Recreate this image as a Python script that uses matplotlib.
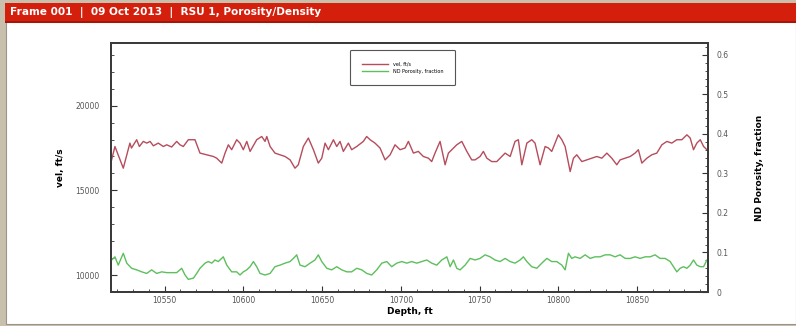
import numpy as np
import matplotlib
matplotlib.use('Agg')
import matplotlib.pyplot as plt
from matplotlib.patches import Rectangle
from matplotlib.ticker import MultipleLocator

# sonic velocity log (ft/s) vs depth (ft)
vel_depth = [10516.4, 10518.5, 10523.8, 10528.0, 10529.0, 10532.3, 10534.0, 10536.5, 10538.7,
             10540.8, 10542.9, 10546.0, 10549.2, 10551.4, 10554.5, 10557.7, 10559.8, 10561.9,
             10565.1, 10569.3, 10572.5, 10576.8, 10581.0, 10583.1, 10586.3, 10588.4, 10590.5,
             10592.6, 10595.8, 10597.9, 10600.0, 10602.2, 10604.3, 10608.5, 10611.7, 10613.8,
             10614.9, 10617.0, 10620.1, 10623.3, 10626.5, 10629.7, 10632.8, 10634.9, 10638.1,
             10641.3, 10644.5, 10647.6, 10649.8, 10651.9, 10654.0, 10657.2, 10659.3, 10661.4,
             10663.5, 10666.7, 10668.8, 10672.0, 10676.2, 10678.3, 10680.5, 10683.6, 10686.8,
             10690.0, 10693.2, 10696.3, 10699.5, 10702.7, 10704.8, 10708.0, 10711.1, 10714.3,
             10717.5, 10719.6, 10721.7, 10724.9, 10728.1, 10730.2, 10733.4, 10735.5, 10738.7,
             10741.9, 10745.0, 10747.1, 10750.3, 10752.4, 10754.6, 10757.7, 10760.9, 10763.0,
             10766.2, 10769.4, 10772.5, 10774.6, 10776.8, 10780.0, 10783.1, 10785.2, 10788.4,
             10791.6, 10793.7, 10795.8, 10800.0, 10802.2, 10804.3, 10807.5, 10809.6, 10811.7,
             10814.9, 10818.1, 10821.2, 10824.4, 10827.6, 10830.8, 10833.9, 10837.1, 10839.2,
             10842.4, 10845.6, 10848.7, 10850.8, 10853.0, 10856.2, 10859.3, 10862.5, 10865.7,
             10868.9, 10872.0, 10875.2, 10878.4, 10881.6, 10883.7, 10885.8, 10887.9, 10890.1,
             10892.2, 10894.3]
vel = [16800, 17590, 16310, 17790, 17500, 17990, 17590, 17890, 17790,
       17890, 17630, 17790, 17590, 17690, 17560, 17890, 17690, 17590,
       17990, 17990, 17200, 17100, 17000, 16900, 16610, 17200, 17690,
       17400, 17990, 17790, 17400, 17890, 17300, 17990, 18180, 17890,
       18180, 17590, 17200, 17100, 17000, 16800, 16310, 16510, 17590,
       18090, 17400, 16610, 16900, 17790, 17400, 17990, 17590, 17890,
       17300, 17790, 17400, 17590, 17890, 18180, 17990, 17790, 17500,
       16800, 17100, 17690, 17400, 17500, 17890, 17200, 17300, 17000,
       16900, 16700, 17200, 17890, 16510, 17200, 17500, 17690, 17890,
       17300, 16800, 16800, 17000, 17300, 16900, 16700, 16700, 16900,
       17200, 17000, 17890, 17990, 16510, 17790, 17990, 17790, 16510,
       17590, 17500, 17300, 18280, 17990, 17590, 16110, 16900, 17100,
       16700, 16800, 16900, 17000, 16900, 17200, 16900, 16510, 16800,
       16900, 17000, 17200, 17400, 16610, 16900, 17100, 17200, 17690,
       17890, 17790, 17990, 17990, 18280, 18090, 17400, 17790, 17990,
       17590, 17400]

# neutron-density porosity (fraction) vs depth (ft)
por_depth = [10516.4, 10518.5, 10520.6, 10523.8, 10526.0, 10529.1, 10532.3, 10535.5, 10538.7,
             10541.8, 10545.0, 10548.2, 10551.4, 10554.5, 10557.7, 10560.9, 10563.0, 10565.1,
             10568.3, 10570.4, 10572.5, 10575.7, 10577.8, 10580.0, 10582.0, 10584.1, 10587.3,
             10589.5, 10592.6, 10595.8, 10597.9, 10600.0, 10602.2, 10604.3, 10606.4, 10608.5,
             10610.6, 10613.8, 10617.0, 10620.1, 10623.3, 10626.5, 10629.7, 10632.8, 10633.9,
             10636.0, 10639.2, 10642.4, 10645.5, 10647.6, 10649.8, 10653.0, 10656.1, 10659.3,
             10662.5, 10665.7, 10668.8, 10672.0, 10675.2, 10678.4, 10681.5, 10684.7, 10687.9,
             10691.1, 10694.2, 10697.4, 10700.6, 10703.8, 10706.9, 10710.1, 10713.3, 10716.5,
             10719.6, 10722.8, 10726.0, 10729.2, 10731.3, 10733.4, 10735.5, 10737.6, 10740.8,
             10744.0, 10747.1, 10750.3, 10753.5, 10756.7, 10759.8, 10763.0, 10766.2, 10769.4,
             10772.5, 10775.7, 10777.8, 10780.0, 10783.1, 10786.3, 10789.5, 10792.7, 10795.8,
             10799.0, 10802.2, 10804.3, 10806.4, 10808.5, 10810.6, 10813.8, 10817.0, 10820.2,
             10823.3, 10826.5, 10829.7, 10832.9, 10836.0, 10839.2, 10842.4, 10845.6, 10848.7,
             10851.9, 10855.1, 10858.3, 10861.4, 10864.6, 10867.8, 10871.0, 10873.1, 10875.2,
             10877.3, 10879.4, 10881.6, 10883.7, 10885.8, 10887.9, 10890.1, 10892.2, 10894.3]
por = [0.081, 0.089, 0.068, 0.098, 0.073, 0.060, 0.056, 0.051, 0.047,
       0.056, 0.047, 0.051, 0.049, 0.049, 0.049, 0.060, 0.043, 0.032,
       0.035, 0.047, 0.060, 0.073, 0.077, 0.073, 0.081, 0.077, 0.089,
       0.068, 0.051, 0.051, 0.043, 0.051, 0.056, 0.064, 0.077, 0.064,
       0.047, 0.043, 0.047, 0.064, 0.068, 0.073, 0.077, 0.089, 0.094,
       0.068, 0.064, 0.073, 0.081, 0.094, 0.077, 0.060, 0.056, 0.064,
       0.056, 0.051, 0.051, 0.060, 0.056, 0.047, 0.043, 0.056, 0.073,
       0.077, 0.064, 0.073, 0.077, 0.073, 0.077, 0.073, 0.077, 0.081,
       0.073, 0.068, 0.081, 0.089, 0.064, 0.081, 0.060, 0.056, 0.068,
       0.085, 0.081, 0.085, 0.094, 0.089, 0.081, 0.077, 0.085, 0.077,
       0.073, 0.081, 0.089, 0.077, 0.064, 0.060, 0.073, 0.085, 0.077,
       0.077, 0.068, 0.056, 0.098, 0.085, 0.089, 0.085, 0.094, 0.085,
       0.089, 0.089, 0.094, 0.094, 0.089, 0.094, 0.085, 0.085, 0.089,
       0.085, 0.089, 0.089, 0.094, 0.085, 0.085, 0.077, 0.064, 0.051,
       0.060, 0.064, 0.060, 0.068, 0.081, 0.068, 0.064, 0.064, 0.081]

W, H = 796, 326
fig = plt.figure(figsize=(W / 100, H / 100), dpi=100)
fig.patch.set_facecolor('#c8bfad')

def px_rect(x0, y0, x1, y1, **kw):
    # rectangle given in pixel coords, origin top-left
    fig.add_artist(Rectangle((x0 / W, 1 - y1 / H), (x1 - x0) / W, (y1 - y0) / H,
                             transform=fig.transFigure, **kw))

# white panel and red header bar
px_rect(6, 22, W, 324, facecolor='white', edgecolor='#9a948a', linewidth=0.8, zorder=0)
px_rect(5, 3, W, 22, facecolor='#d31f0c', edgecolor='none', zorder=1)
px_rect(5, 21, W, 23, facecolor='#a5160a', edgecolor='none', zorder=1)
fig.text(10 / W, 1 - 13 / H, 'Frame 001  |  09 Oct 2013  |  RSU 1, Porosity/Density',
         color='white', fontsize=7.6, fontweight='bold', family='DejaVu Sans',
         va='center', ha='left')

ax = fig.add_axes([111 / W, 1 - 292 / H, (708 - 111) / W, (292 - 43) / H])
ax2 = ax.twinx()

red = '#b64c5c'
green = '#5dbf5d'
l1, = ax.plot(vel_depth, vel, color=red, lw=1.0, solid_joinstyle='round', label='vel, ft/s')
l2, = ax2.plot(por_depth, por, color=green, lw=1.0, solid_joinstyle='round',
               label='ND Porosity, fraction')

ax.set_xlim(10516, 10895)
ax.set_ylim(9000, 23700)
ax2.set_ylim(0, 0.63)

ax.xaxis.set_major_locator(MultipleLocator(50))
ax.xaxis.set_minor_locator(MultipleLocator(10))
ax.yaxis.set_major_locator(MultipleLocator(5000))
ax.yaxis.set_minor_locator(MultipleLocator(1000))
ax2.yaxis.set_minor_locator(MultipleLocator(0.02))
ax2.set_yticks([0, 0.1, 0.2, 0.3, 0.4, 0.5, 0.6])
ax2.set_yticklabels(['0', '0.1', '0.2', '0.3', '0.4', '0.5', '0.6'])

for a in (ax, ax2):
    a.tick_params(which='major', direction='in', length=4, width=0.8,
                  labelsize=5.5, labelcolor='#555555', color='#333333')
    a.tick_params(which='minor', direction='in', length=2.5, width=0.6, color='#333333')
    for s in a.spines.values():
        s.set_color('#3a3a3a')
        s.set_linewidth(1.3)
ax.tick_params(axis='x', which='major', pad=3)
ax.tick_params(axis='y', which='major', pad=8)
ax2.tick_params(axis='y', which='major', pad=6)

ax.set_xlabel('Depth, ft', fontsize=6.5, fontweight='bold', labelpad=1)
ax.set_ylabel('vel, ft/s', fontsize=6.5, fontweight='bold', labelpad=8)
ax2.set_ylabel('ND Porosity, fraction', fontsize=6.5, fontweight='bold', labelpad=19)

leg = ax.legend(handles=[l1, l2], loc='upper left',
                bbox_to_anchor=(0.397, 0.98, 0.183, 0.0), mode='expand',
                fontsize=3.5, borderpad=2.3, handlelength=5.5, handletextpad=1.0,
                labelspacing=0.4, fancybox=True, framealpha=1, edgecolor='#555555')
leg.get_frame().set_linewidth(0.8)

fig.savefig('out.png', dpi=100, facecolor=fig.get_facecolor())
